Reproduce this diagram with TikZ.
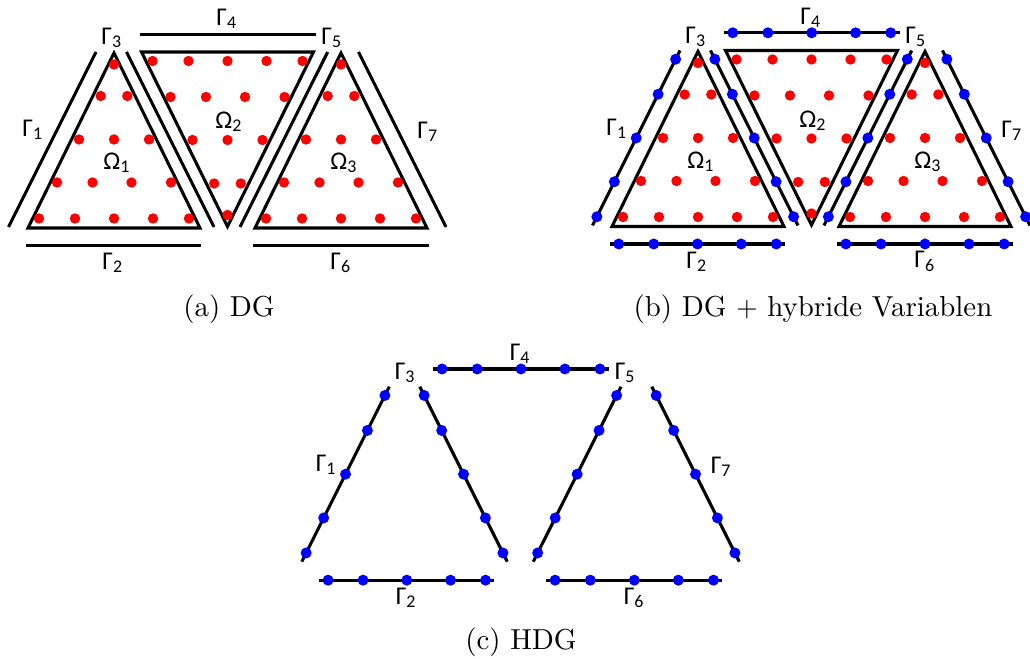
\documentclass[tikz,border=0pt]{standalone}
\usepackage{fontspec}
\newfontfamily\lblfont{Carlito}
\usetikzlibrary{calc}

\begin{document}
\begin{tikzpicture}[x=0.36pt, y=-0.36pt,
  elem/.style={line width=1.1pt},
  gline/.style={line width=1.1pt},
  lbl/.style={font=\lblfont\fontsize{9.2}{10}\selectfont, inner sep=0pt},
  captxt/.style={font=\fontsize{10.4}{12}\selectfont, inner sep=0pt}]
  \useasboundingbox (0,0) rectangle (1030,659);
  % panels: shift x / shift y / elements drawn / hybrid dots drawn
  \foreach \sx/\sy/\withelem/\withdots in {0/0/1/0, 584/-1.5/1/1, 293.3/334.7/0/1} {
    \begin{scope}[shift={(\sx,\sy)}]
      \coordinate (g1s) at (8.5,227);   \coordinate (g1e) at (96,52);
      \coordinate (g2s) at (26,245.5);  \coordinate (g2e) at (201,245.5);
      \coordinate (g3s) at (126.5,52);  \coordinate (g3e) at (214,227);
      \coordinate (g4s) at (140,34.3);  \coordinate (g4e) at (315.5,34.3);
      \coordinate (g5s) at (327.7,52);  \coordinate (g5e) at (240,227);
      \coordinate (g6s) at (253,245.5); \coordinate (g6e) at (429,245.5);
      \coordinate (g7s) at (358.5,52);  \coordinate (g7e) at (446,227);
      \foreach \s/\e in {g1s/g1e, g2s/g2e, g3s/g3e, g4s/g4e, g5s/g5e, g6s/g6e, g7s/g7e} {
        \draw[gline] (\s) -- (\e);
        \ifnum\withdots=1
          \foreach \t in {0.05,0.25,0.5,0.75,0.95}
            \fill[blue] ($(\s)!\t!(\e)$) circle (5.5);
        \fi
      }
      \node[lbl] (G1) at (33,130) {Γ\textsubscript{1}};
      \node[lbl] (G2) at (113,263) {Γ\textsubscript{2}};
      \node[lbl] (G3) at (112,38) {Γ\textsubscript{3}};
      \node[lbl] (G4) at (227,19) {Γ\textsubscript{4}};
      \node[lbl] (G5) at (332,38) {Γ\textsubscript{5}};
      \node[lbl] (G6) at (341,263) {Γ\textsubscript{6}};
      \node[lbl] (G7) at (428,132) {Γ\textsubscript{7}};
      \ifnum\withelem=1
        \draw[elem] (28,228) -- (200,228) -- (114,53) -- cycle;
        \draw[elem] (141.5,52) -- (313.5,52) -- (227.5,226.5) -- cycle;
        \draw[elem] (255,228) -- (427,228) -- (341,53) -- cycle;
        % DG nodes, apex x / apex y / orientation
        \foreach \ax/\ay/\sg in {114/51/1, 227.5/228.5/-1, 341/51/1}
          \foreach \dx/\dy in {0/13.5, -13.3/45, 13.3/45, -35/88.5, 0/88.5, 35/88.5,
              -57/131.5, -21.5/131.5, 17.5/131.5, 57/131.5,
              -75/167.5, -39/167.5, 0/167.5, 39/167.5, 75/167.5}
            \fill[red] (\ax+\dx, \ay+\sg*\dy) circle (5.2);
        \node[lbl] (O1) at (117,163) {Ω\textsubscript{1}};
        \node[lbl] (O2) at (229,122) {Ω\textsubscript{2}};
        \node[lbl] (O3) at (344,163) {Ω\textsubscript{3}};
      \fi
    \end{scope}
  }
  \node[captxt] (capa) at (229,309) {(a) DG};
  \node[captxt] (capb) at (813,309) {(b) DG $+$ hybride Variablen};
  \node[captxt] (capc) at (521,642) {(c) HDG};
\end{tikzpicture}
\end{document}
